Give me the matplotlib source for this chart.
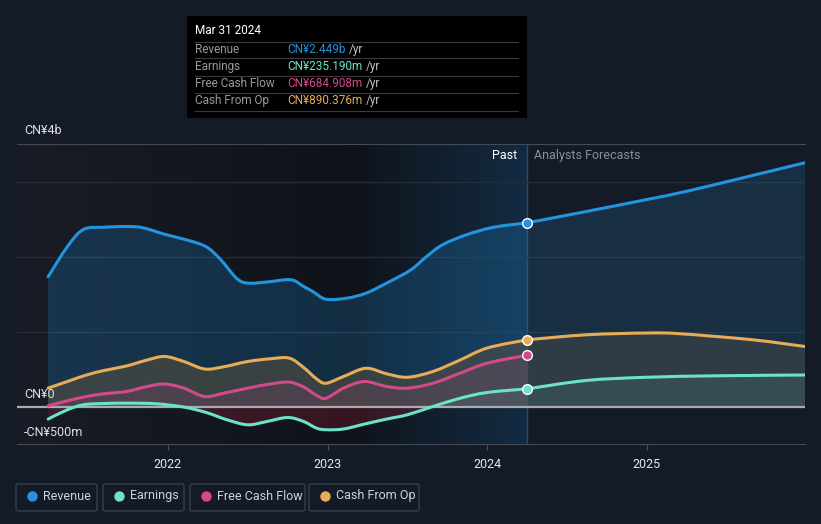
import numpy as np
import matplotlib
matplotlib.use("Agg")
import matplotlib.pyplot as plt
from matplotlib.patches import Rectangle, FancyBboxPatch, PathPatch
from matplotlib.path import Path
from matplotlib.colors import to_rgb

plt.rcParams['font.family'] = ['Roboto', 'DejaVu Sans']

# values in CN¥ billions, x in fractional years
rev_x = [2021.25, 2021.37, 2021.47, 2021.60, 2021.76, 2021.85, 2021.99, 2022.12, 2022.24,
         2022.33, 2022.43, 2022.50, 2022.62, 2022.77, 2022.85, 2022.91, 2022.99, 2023.12,
         2023.24, 2023.37, 2023.52, 2023.62, 2023.72, 2023.87, 2024.04, 2024.25]
rev_y = [1.73, 2.13, 2.36, 2.39, 2.40, 2.38, 2.29, 2.22, 2.13,
         1.96, 1.71, 1.645, 1.66, 1.69, 1.60, 1.53, 1.43, 1.445,
         1.51, 1.645, 1.82, 2.00, 2.156, 2.29, 2.39, 2.449]
rev_fx = [2024.25, 2024.62, 2025.00, 2025.25, 2025.66, 2025.99]
rev_fy = [2.449, 2.60, 2.76, 2.87, 3.08, 3.25]

cfo_x = [2021.25, 2021.37, 2021.49, 2021.60, 2021.74, 2021.87, 2021.98, 2022.10, 2022.23,
         2022.35, 2022.50, 2022.64, 2022.76, 2022.85, 2022.93, 2022.99, 2023.10, 2023.24,
         2023.37, 2023.50, 2023.66, 2023.83, 2024.00, 2024.25]
cfo_y = [0.245, 0.333, 0.42, 0.48, 0.54, 0.62, 0.667, 0.60, 0.50,
         0.53, 0.60, 0.636, 0.645, 0.52, 0.37, 0.31, 0.40, 0.51,
         0.436, 0.39, 0.467, 0.62, 0.78, 0.890]
cfo_fx = [2024.25, 2024.62, 2025.00, 2025.21, 2025.66, 2025.99]
cfo_fy = [0.890, 0.956, 0.98, 0.97, 0.89, 0.80]

fcf_x = [2021.25, 2021.37, 2021.49, 2021.60, 2021.74, 2021.87, 2021.98, 2022.10, 2022.23,
         2022.35, 2022.50, 2022.64, 2022.76, 2022.85, 2022.93, 2022.99, 2023.10, 2023.23,
         2023.37, 2023.50, 2023.66, 2023.83, 2024.00, 2024.25]
fcf_y = [0.01, 0.076, 0.133, 0.17, 0.20, 0.267, 0.30, 0.245, 0.133,
         0.178, 0.245, 0.30, 0.325, 0.26, 0.15, 0.11, 0.245, 0.333,
         0.267, 0.245, 0.31, 0.445, 0.578, 0.685]

earn_x = [2021.25, 2021.37, 2021.47, 2021.60, 2021.76, 2021.93, 2022.10, 2022.24, 2022.37,
          2022.50, 2022.62, 2022.75, 2022.85, 2022.93, 2022.99, 2023.10, 2023.24, 2023.37,
          2023.50, 2023.66, 2023.83, 2024.00, 2024.25]
earn_y = [-0.168, -0.044, 0.023, 0.04, 0.045, 0.036, -0.008, -0.08, -0.177,
          -0.244, -0.20, -0.147, -0.20, -0.288, -0.31, -0.30, -0.23, -0.168,
          -0.11, 0.0, 0.11, 0.187, 0.235]
earn_fx = [2024.25, 2024.62, 2025.00, 2025.46, 2025.99]
earn_fy = [0.235, 0.347, 0.39, 0.41, 0.42]

names = ['Revenue', 'Earnings', 'Free Cash Flow', 'Cash From Op']
colors = ['#2394df', '#6ce2c8', '#d4498a', '#e8ac57']
tip_values = ['CN¥2.449b', 'CN¥235.190m', 'CN¥684.908m', 'CN¥890.376m']
year_ticks = [2022, 2023, 2024, 2025]

bg = '#151b26'
W, H = 821, 524
fig = plt.figure(figsize=(W / 100, H / 100), dpi=100, facecolor=bg)
ax = fig.add_axes([17 / W, 1 - 444 / H, (805 - 17) / W, (444 - 144) / H])
ax.set_facecolor(bg)
x0, x1 = 2021.055, 2025.99
y0, y1 = -0.5, 3.5


def curve(xs, ys, close_to=None):
    # smooth bezier path through the points (catmull-rom style)
    p = np.column_stack([xs, ys]).astype(float)
    verts = [p[0]]
    codes = [Path.MOVETO]
    n = len(p)
    for i in range(n - 1):
        a = p[i - 1] if i > 0 else p[i]
        b, c = p[i], p[i + 1]
        d = p[i + 2] if i + 2 < n else p[i + 1]
        verts += [b + (c - a) / 6, c - (d - b) / 6, c]
        codes += [Path.CURVE4] * 3
    if close_to is not None:
        verts += [(p[-1][0], close_to), (p[0][0], close_to), p[0]]
        codes += [Path.LINETO, Path.LINETO, Path.CLOSEPOLY]
    return Path(verts, codes)


def line(xs, ys, c):
    ax.add_patch(PathPatch(curve(xs, ys), facecolor='none', edgecolor=c, lw=2.2,
                           capstyle='round', zorder=4))


def area(xs, ys, c, alpha, clip=None):
    pp = PathPatch(curve(xs, ys, close_to=0), facecolor=c, edgecolor='none', alpha=alpha, zorder=2)
    ax.add_patch(pp)
    if clip is not None:
        r = Rectangle((x0, clip[0]), x1 - x0, clip[1] - clip[0], transform=ax.transData)
        pp.set_clip_path(r)


# background shading: darkening towards the last year, blue highlight on last year
grad = np.linspace(0, 1, 256).reshape(1, -1)
c_a, c_b = np.array(to_rgb('#171c26')), np.array(to_rgb('#0f1218'))
img = c_a + (c_b - c_a) * grad[..., None]
ax.imshow(img, extent=[x0, 2023.25, y0, y1], aspect='auto', zorder=0)
c_a, c_b = np.array(to_rgb('#0f161f')), np.array(to_rgb('#132b42'))
img = c_a + (c_b - c_a) * grad[..., None]
ax.imshow(img, extent=[2023.25, 2024.25, y0, y1], aspect='auto', zorder=0)
ax.axvline(2024.25, color='#1f4f78', lw=1, zorder=1)
ax.set_xlim(x0, x1)
ax.set_ylim(y0, y1)

for v in [1, 2, 3]:
    ax.axhline(v, color='#262d38', lw=1, zorder=1)

# fills
area(rev_x, rev_y, colors[0], 0.22)
area(rev_fx, rev_fy, colors[0], 0.16)
area(cfo_x, cfo_y, '#5e5340', 0.5)
area(cfo_fx, cfo_fy, '#4a4a48', 0.5)
area(fcf_x, fcf_y, colors[2], 0.12)
area(earn_x, earn_y, colors[1], 0.08, clip=(0, y1))
area(earn_fx, earn_fy, colors[1], 0.10, clip=(0, y1))
area(earn_x, earn_y, '#c0243e', 0.22, clip=(y0, 0))

ax.axhline(0, color='#a9abae', lw=1.6, zorder=3)

# lines
line(rev_x, rev_y, colors[0])
line(rev_fx, rev_fy, colors[0])
line(cfo_x, cfo_y, colors[3])
line(cfo_fx, cfo_fy, colors[3])
line(fcf_x, fcf_y, colors[2])
line(earn_x, earn_y, colors[1])
line(earn_fx, earn_fy, colors[1])

for yy, c in zip([rev_y[-1], earn_y[-1], fcf_y[-1], cfo_y[-1]], colors):
    ax.plot([2024.25], [yy], 'o', ms=7, color=c, mec='white', mew=1, zorder=6)

for s in ['left', 'right']:
    ax.spines[s].set_visible(False)
ax.spines['top'].set_color('#454b55')
ax.spines['bottom'].set_color('#454b55')
ax.set_yticks([])
ax.set_xticks(year_ticks)
ax.set_xticklabels([str(t) for t in year_ticks])
ax.tick_params(axis='x', colors='#454b55', length=4, width=1, labelcolor='#e8e8e8', labelsize=9, pad=6)

ax.text(2024.19, 3.35, 'Past', color='white', fontsize=9, ha='right', va='center', zorder=7)
ax.text(2024.29, 3.35, 'Analysts Forecasts', color='#8a9098', fontsize=9, ha='left', va='center', zorder=7)


def ft(x, y, s, **kw):
    return fig.text(x / W, 1 - y / H, s, **kw)


ft(24, 131, 'CN¥4b', color='#e0e0e0', fontsize=9, va='center')
ft(24, 395, 'CN¥0', color='#e0e0e0', fontsize=9, va='center')
ft(24, 432, '-CN¥500m', color='#e0e0e0', fontsize=9, va='center')

# tooltip
fig.patches.append(Rectangle((187 / W, 1 - 118 / H), 340 / W, 102 / H, transform=fig.transFigure,
                             facecolor='#000000', edgecolor='none', zorder=10))
ft(195, 31, 'Mar 31 2024', color='white', fontsize=8.5, va='center', zorder=11)
for yy in [41.7, 58.3, 76, 93.3, 111]:
    fig.add_artist(plt.Line2D([195 / W, 518 / W], [1 - yy / H, 1 - yy / H], transform=fig.transFigure,
                              color='#3a3a3a', lw=0.8, zorder=11))
fig.canvas.draw()
for i, (n, v, c) in enumerate(zip(names, tip_values, colors)):
    yy = 49.3 + i * 17.2
    ft(195, yy, n, color='#9a9a9a', fontsize=8.5, va='center', zorder=11)
    t = ft(287, yy, v, color=c, fontsize=8.5, va='center', zorder=11)
    bb = t.get_window_extent(renderer=fig.canvas.get_renderer())
    fig.text((bb.x1 + 4) / W, 1 - yy / H, '/yr', color='#c0c0c0', fontsize=8.5, va='center', zorder=11)

# legend
boxes = [(16, 97), (103, 184), (190, 305), (309, 419)]
for (bx0, bx1), n, c in zip(boxes, names, colors):
    fig.patches.append(FancyBboxPatch((bx0 / W, 1 - 511 / H), (bx1 - bx0) / W, 27 / H,
                                      boxstyle='round,pad=0,rounding_size=0.003', transform=fig.transFigure,
                                      facecolor='none', edgecolor='#3a404a', lw=1))
    fig.add_artist(plt.Line2D([(bx0 + 16) / W], [1 - 496 / H], marker='o', ms=6.5, color=c,
                              transform=fig.transFigure))
    ft(bx0 + 27, 496, n, color='#cfd2d6', fontsize=9, va='center')

fig.savefig('out.png', dpi=100, facecolor=bg)
